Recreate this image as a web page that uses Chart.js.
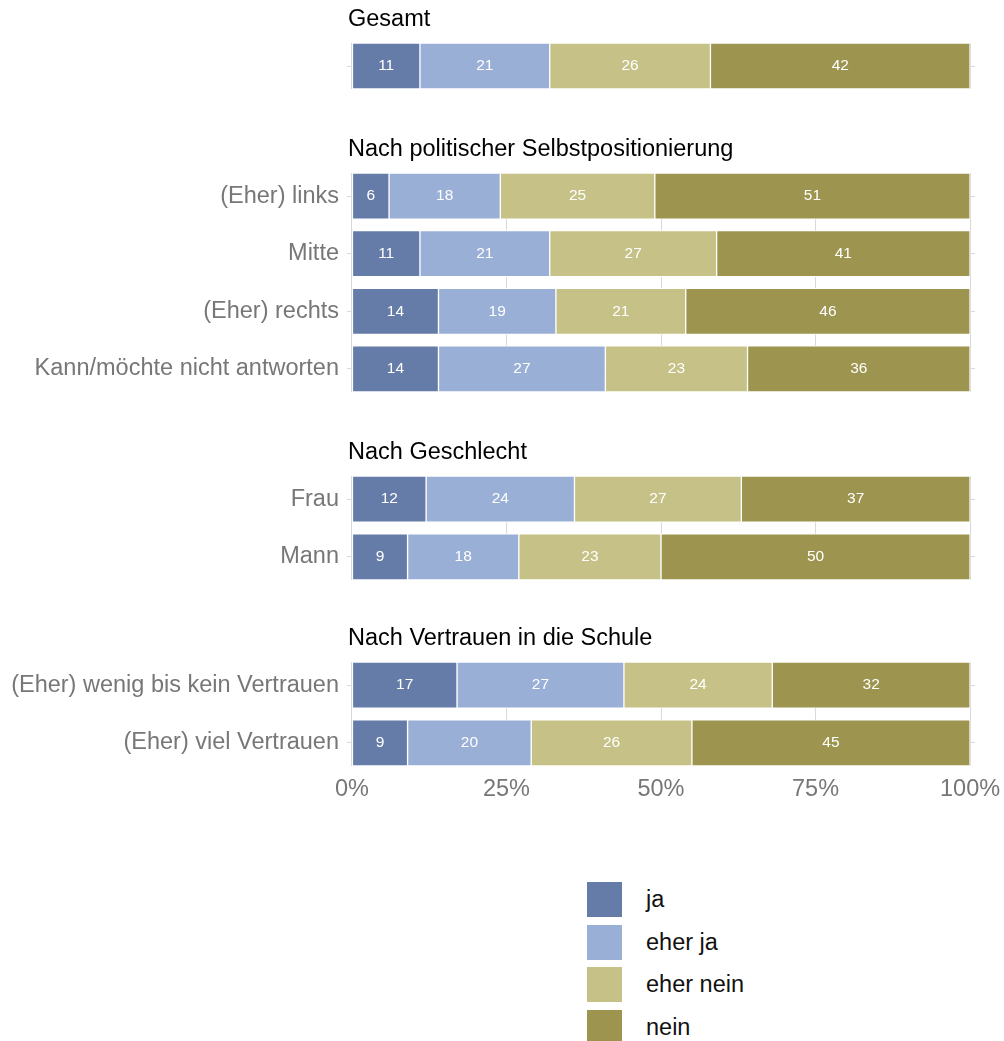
<!DOCTYPE html>
<html><head><meta charset="utf-8">
<script src="https://cdn.jsdelivr.net/npm/chart.js@4/dist/chart.umd.min.js"></script>
<style>
html,body{margin:0;padding:0;background:#fff;}
#wrap{position:relative;width:1004px;height:1041px;overflow:hidden;font-family:"Liberation Sans",Arial,sans-serif;}
#wrap canvas{position:absolute;left:0;}
.legbox{position:absolute;left:587px;width:35px;height:35px;}
.legtxt{position:absolute;left:646px;height:35px;line-height:35px;font-size:23.5px;color:#111;white-space:nowrap;}
</style></head><body><div id="wrap"></div>
<script>
// ---- data ----
const seriesNames = ['ja', 'eher ja', 'eher nein', 'nein'];
const seriesColors = ['#657CA8', '#9AAFD6', '#C6C287', '#9C944F'];
const groupTitles = ['Gesamt', 'Nach politischer Selbstpositionierung', 'Nach Geschlecht', 'Nach Vertrauen in die Schule'];
const groupLabels = [
  [''],
  ['(Eher) links', 'Mitte', '(Eher) rechts', 'Kann/möchte nicht antworten'],
  ['Frau', 'Mann'],
  ['(Eher) wenig bis kein Vertrauen', '(Eher) viel Vertrauen']
];
const ja       = [[11], [6, 11, 14, 14], [12, 9], [17, 9]];
const eherJa   = [[21], [18, 21, 19, 27], [24, 18], [27, 20]];
const eherNein = [[26], [25, 27, 21, 23], [27, 23], [24, 26]];
const nein     = [[42], [51, 41, 46, 36], [37, 50], [32, 45]];
const xTicks = [0, 25, 50, 75, 100];
const seriesData = [ja, eherJa, eherNein, nein];

// ---- layout ----
const FONT = '"Liberation Sans", Arial, Helvetica, sans-serif';
const areaTops = [43, 173, 476, 662];
const PITCH = 57.5, BAR = 46, TITLE_SPACE = 40, AXIS_H = 45;
const X_MIN = -0.8, X_MAX = 100.8;
const wrap = document.getElementById('wrap');

const valueLabels = {
  id: 'valueLabels',
  afterDatasetsDraw(chart) {
    const ctx = chart.ctx;
    ctx.save();
    ctx.font = '15.5px ' + FONT;
    ctx.fillStyle = '#ffffff';
    ctx.textAlign = 'center';
    ctx.textBaseline = 'middle';
    chart.data.datasets.forEach((ds, di) => {
      chart.getDatasetMeta(di).data.forEach((bar, i) => {
        const p = bar.getProps(['x', 'y', 'base'], true);
        ctx.fillText(String(ds.data[i].x), (p.x + p.base) / 2, p.y);
      });
    });
    ctx.restore();
  }
};
const groupTitle = {
  id: 'groupTitle',
  afterDraw(chart, args, opts) {
    const ctx = chart.ctx;
    ctx.save();
    ctx.font = '23.5px ' + FONT;
    ctx.fillStyle = '#000000';
    ctx.textAlign = 'left';
    ctx.textBaseline = 'alphabetic';
    ctx.fillText(opts.text, chart.chartArea.left + 1, chart.chartArea.top - 17);
    ctx.restore();
  }
};

groupTitles.forEach((title, g) => {
  const labels = groupLabels[g];
  const n = labels.length;
  const last = g === groupTitles.length - 1;
  const areaH = Math.round((n - 1) * PITCH + BAR);
  const cv = document.createElement('canvas');
  const h = TITLE_SPACE + areaH + (last ? AXIS_H : 0);
  cv.width = 1004; cv.height = h;
  cv.style.width = '1004px'; cv.style.height = h + 'px';
  cv.style.top = (areaTops[g] - TITLE_SPACE) + 'px';
  wrap.appendChild(cv);
  const half = BAR / 2 / PITCH;
  const yMin = -half, yMax = n - 1 + half;
  new Chart(cv, {
    type: 'bar',
    data: {
      datasets: seriesNames.map((name, s) => ({
        label: name,
        data: seriesData[s][g].map((v, r) => ({ x: v, y: r })),
        backgroundColor: seriesColors[s],
        borderColor: '#ffffff',
        borderWidth: 1,
        borderSkipped: false,
        barThickness: BAR,
        stack: 'all'
      }))
    },
    options: {
      indexAxis: 'y',
      responsive: false,
      animation: false,
      devicePixelRatio: 1,
      layout: { padding: { top: TITLE_SPACE, right: 29, left: 0, bottom: 0 } },
      plugins: {
        legend: { display: false },
        tooltip: { enabled: false },
        groupTitle: { text: title }
      },
      scales: {
        x: {
          type: 'linear', min: X_MIN, max: X_MAX, stacked: true, bounds: 'data', offset: false,
          afterBuildTicks: s => { s.ticks = xTicks.map(v => ({ value: v })); },
          afterFit: s => {
            s.height = last ? AXIS_H : 0;
            s.paddingLeft = 0; s.paddingRight = 0; s.paddingTop = 0; s.paddingBottom = 0;
          },
          grid: { color: '#D9D9D9', lineWidth: 1, drawTicks: false, offset: false },
          border: { display: false },
          ticks: {
            display: last, padding: 9, autoSkip: false, maxRotation: 0,
            color: '#777777', font: { size: 23.5, family: FONT },
            callback: v => v + '%'
          }
        },
        y: {
          type: 'linear', reverse: true, min: yMin, max: yMax, stacked: true, bounds: 'data', offset: false,
          afterBuildTicks: s => { s.ticks = labels.map((_, i) => ({ value: i })); },
          afterFit: s => {
            s.width = 347;
            s.paddingLeft = 0; s.paddingRight = 0; s.paddingTop = 0; s.paddingBottom = 0;
          },
          grid: { color: '#D9D9D9', lineWidth: 1, drawTicks: false, offset: false },
          border: { display: false },
          ticks: {
            padding: 8, autoSkip: false,
            color: '#777777', font: { size: 23.5, family: FONT },
            callback: v => labels[Math.round(v)]
          }
        }
      }
    },
    plugins: [valueLabels, groupTitle]
  });
});

// ---- legend ----
const legTops = [882, 925, 967, 1010];
seriesNames.forEach((name, s) => {
  const b = document.createElement('div');
  b.className = 'legbox';
  b.style.top = legTops[s] + 'px';
  b.style.background = seriesColors[s];
  wrap.appendChild(b);
  const t = document.createElement('div');
  t.className = 'legtxt';
  t.style.top = legTops[s] + 'px';
  t.textContent = name;
  wrap.appendChild(t);
});
</script></body></html>
